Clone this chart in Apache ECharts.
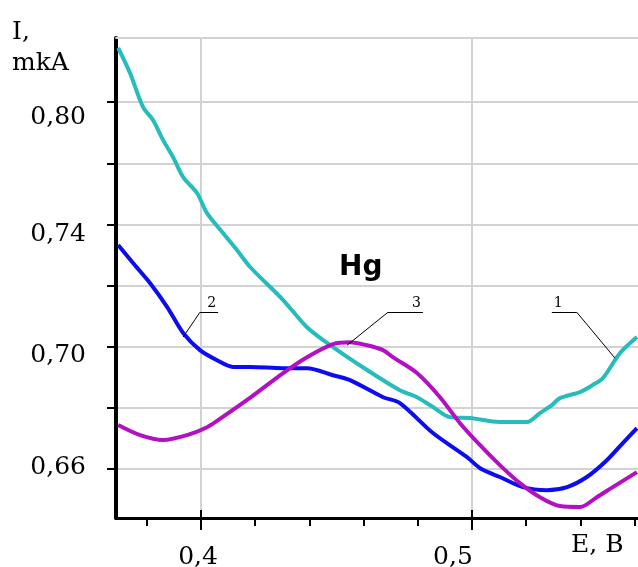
<!DOCTYPE html>
<html>
<head>
<meta charset="utf-8">
<script src="https://cdn.jsdelivr.net/npm/echarts@6/dist/echarts.min.js"></script>
<style>
html, body { margin: 0; padding: 0; background: #fff; }
#chart { width: 638px; height: 567px; }
</style>
</head>
<body>
<div id="chart"></div>
<script>
// curve values, [E, I]
var curve1 = [[0.3694,0.7978],[0.3738,0.7895],[0.3786,0.7784],[0.3823,0.7741],[0.3860,0.7676],[0.3897,0.7620],
    [0.3934,0.7555],[0.3985,0.7503],[0.4022,0.7437],[0.4081,0.7372],[0.4133,0.7316],[0.4181,0.7261],
    [0.4303,0.7153],[0.4391,0.7064],[0.4487,0.6999],[0.4613,0.6924],[0.4734,0.6858],[0.4797,0.6835],
    [0.4856,0.6803],[0.4919,0.6770],[0.4993,0.6767],[0.5103,0.6754],[0.5203,0.6754],[0.5251,0.6783],
    [0.5295,0.6809],[0.5325,0.6832],[0.5399,0.6852],[0.5446,0.6875],[0.5483,0.6897],[0.5546,0.6979],
    [0.5609,0.7032]];
var curve2 = [[0.3694,0.7333],[0.3749,0.7274],[0.3812,0.7208],[0.3875,0.7130],[0.3934,0.7045],[0.3996,0.6989],
    [0.4059,0.6956],[0.4118,0.6934],[0.4181,0.6934],[0.4303,0.6930],[0.4391,0.6930],[0.4487,0.6907],
    [0.4550,0.6891],[0.4672,0.6835],[0.4734,0.6816],[0.4856,0.6718],[0.4982,0.6639],[0.5030,0.6603],
    [0.5103,0.6574],[0.5188,0.6541],[0.5277,0.6531],[0.5351,0.6541],[0.5424,0.6574],[0.5498,0.6629],
    [0.5557,0.6685],[0.5609,0.6734]];
var curve3 = [[0.3694,0.6744],[0.3775,0.6711],[0.3860,0.6695],[0.3948,0.6711],[0.4022,0.6737],[0.4063,0.6760],
    [0.4170,0.6826],[0.4303,0.6914],[0.4391,0.6966],[0.4487,0.7009],[0.4550,0.7015],[0.4613,0.7005],
    [0.4672,0.6989],[0.4708,0.6966],[0.4797,0.6914],[0.4882,0.6835],[0.4956,0.6750],[0.5030,0.6678],
    [0.5103,0.6613],[0.5177,0.6554],[0.5251,0.6508],[0.5325,0.6479],[0.5399,0.6476],[0.5461,0.6508],
    [0.5520,0.6541],[0.5609,0.6590]];

var yTicks = [0.66, 0.68, 0.70, 0.72, 0.74, 0.76, 0.78];
var yLabelValues = [0.66, 0.70, 0.74, 0.78];
var yLabelText = ['0,66', '0,70', '0,74', '0,80'];
var xMinorTicks = [0.38, 0.42, 0.44, 0.46, 0.48, 0.52, 0.54, 0.56];
var xMajorTicks = [0.4, 0.5];
var xLabelText = ['0,4', '0,5'];

// curve numbers: tip on the curve, elbow, end of the underline
var callouts = [
    { text: '1', tip: [0.5528, 0.6963], elbow: [0.5387, 0.7113], tail: 0.5295 },
    { text: '2', tip: [0.3934, 0.7032], elbow: [0.3996, 0.7113], tail: 0.4063 },
    { text: '3', tip: [0.4539, 0.7005], elbow: [0.4690, 0.7113], tail: 0.4819 }
];

var serif = '"DejaVu Serif", serif';

function indexOfValue(list, v) {
    for (var i = 0; i < list.length; i++) {
        if (Math.abs(list[i] - v) < 1e-6) return i;
    }
    return -1;
}

function calloutLines(c) {
    var y = c.elbow[1];
    var under;
    if (c.tail < c.elbow[0]) {
        under = [{ coord: [c.tail, y], label: { show: true, formatter: c.text, position: 'insideStartTop' } },
                 { coord: [c.elbow[0], y] }];
    } else {
        under = [{ coord: [c.elbow[0], y], label: { show: true, formatter: c.text, position: 'insideEndTop' } },
                 { coord: [c.tail, y] }];
    }
    return {
        silent: true,
        symbol: ['none', 'none'],
        animation: false,
        lineStyle: { color: '#000', width: 1, type: 'solid' },
        label: { show: false, color: '#000', fontFamily: serif, fontSize: 14, distance: 2 },
        emphasis: { disabled: true },
        data: [
            [{ coord: c.tip, label: { show: false } }, { coord: c.elbow }],
            under
        ]
    };
}

var xMin = 0.3686, xMax = 0.5613;

var chart = echarts.init(document.getElementById('chart'));
var option = {
    animation: false,
    backgroundColor: '#fff',
    grid: { left: 116, right: 0, top: 38, bottom: 49, containLabel: false, outerBoundsMode: 'none' },
    xAxis: [{
        type: 'value', position: 'bottom', min: xMin, max: xMax,
        axisLine: { onZero: false, lineStyle: { color: '#000', width: 3 } },
        axisTick: { show: true, inside: false, length: 12, customValues: xMajorTicks, lineStyle: { color: '#000', width: 2 } },
        axisLabel: {
            customValues: xMajorTicks, margin: 27, color: '#000', fontFamily: serif, fontSize: 25,
            formatter: function (v) {
                var i = indexOfValue(xMajorTicks, v);
                return '{m' + i + '|' + xLabelText[i] + '}';
            },
            rich: { m0: { padding: [0, 6, 0, 0] }, m1: { padding: [0, 38, 0, 0] } }
        },
        splitLine: { show: true, lineStyle: { color: '#d2d2d2', width: 2 } }
    }, {
        type: 'value', position: 'bottom', min: xMin, max: xMax,
        axisLine: { show: false, onZero: false },
        axisTick: { show: true, inside: false, length: 8, customValues: xMinorTicks, lineStyle: { color: '#000', width: 2 } },
        axisLabel: { show: false },
        splitLine: { show: false }
    }, {
        type: 'value', position: 'bottom', min: xMin, max: xMax,
        axisLine: { show: false, onZero: false },
        axisTick: { show: true, inside: true, length: 8, customValues: xMajorTicks, lineStyle: { color: '#000', width: 2 } },
        axisLabel: { show: false },
        splitLine: { show: false }
    }, {
        type: 'value', position: 'top', min: xMin, max: xMax,
        axisLine: { show: true, onZero: false, lineStyle: { color: '#d2d2d2', width: 2 } },
        axisTick: { show: false },
        axisLabel: { show: false },
        splitLine: { show: false }
    }],
    yAxis: {
        type: 'value', min: 0.644, max: 0.801,
        axisLine: { show: true, onZero: false, lineStyle: { color: '#000', width: 4 } },
        axisTick: { show: true, inside: false, length: 9, customValues: yTicks, lineStyle: { color: '#000', width: 2 } },
        axisLabel: {
            customValues: yLabelValues, margin: 30, color: '#000', fontFamily: serif, fontSize: 25,
            formatter: function (v) {
                var i = indexOfValue(yLabelValues, v);
                return '{s' + i + '|' + yLabelText[i] + '}';
            },
            rich: {
                s0: { padding: [0, 0, 4, 0] },
                s1: { padding: [18, 0, 0, 0] },
                s2: { padding: [20, 0, 0, 0] },
                s3: { padding: [30, 0, 0, 0] }
            }
        },
        splitLine: { show: true, lineStyle: { color: '#d2d2d2', width: 2 } }
    },
    graphic: [
        { type: 'text', left: 12, top: 17, style: { text: 'I,\nmkA', font: '25px "DejaVu Serif"', lineHeight: 31, fill: '#000' } },
        { type: 'text', left: 339, top: 254, style: { text: 'Hg', font: 'bold 28px "DejaVu Sans"', fill: '#000' } },
        { type: 'text', left: 571, top: 533, style: { text: 'E, B', font: '25px "DejaVu Serif"', fill: '#000' } }
    ],
    series: [{
        type: 'line', data: curve1, showSymbol: false, smooth: 0.3,
        lineStyle: { color: '#26bcbc', width: 4 }, itemStyle: { color: '#26bcbc' },
        markLine: calloutLines(callouts[0])
    }, {
        type: 'line', data: curve2, showSymbol: false, smooth: 0.3,
        lineStyle: { color: '#0c0cf2', width: 4 }, itemStyle: { color: '#0c0cf2' },
        markLine: calloutLines(callouts[1])
    }, {
        type: 'line', data: curve3, showSymbol: false, smooth: 0.3,
        lineStyle: { color: '#b310c4', width: 4 }, itemStyle: { color: '#b310c4' },
        markLine: calloutLines(callouts[2])
    }]
};
chart.setOption(option);
</script>
</body>
</html>
